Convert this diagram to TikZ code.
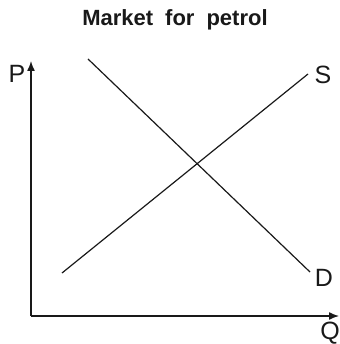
\documentclass[tikz,border=0pt]{standalone}
\usepackage{fontspec}
\setmainfont{Liberation Sans}
\usetikzlibrary{arrows.meta,positioning}

\begin{document}
\begin{tikzpicture}[
  x=1pt, y=-1pt,
  font=\fontsize{25}{25}\selectfont,
  >={Latex[length=10pt, width=8pt]},
  axis/.style={->, line width=1.4pt, draw=black!90},
  curve/.style={line width=1.2pt, draw=black!90},
  lbl/.style={inner sep=0pt, text=black!90}
]
  \useasboundingbox (0,0) rectangle (339,344);

  \node[lbl, anchor=base, font=\fontsize{22}{22}\selectfont\bfseries] (title) at (175,26)
    {Market\hspace{12pt}for\hspace{12pt}petrol};

  \coordinate (origin) at (31,316);
  \coordinate (ptop) at (31,61);
  \coordinate (qend) at (339,316);
  \draw[axis] (origin) -- (ptop);
  \draw[axis] (origin) -- (qend);

  \coordinate (sstart) at (62,273);
  \coordinate (send) at (308,74);
  \coordinate (dstart) at (88,59);
  \coordinate (dend) at (310,272);
  \draw[curve] (sstart) -- (send);
  \draw[curve] (dstart) -- (dend);

  \node[lbl] (plabel) at (17,74) {P};
  \node[lbl] (slabel) at (323,75) {S};
  \node[lbl] (dlabel) at (324,278) {D};
  \node[lbl] (qlabel) at (330,333) {Q};
\end{tikzpicture}
\end{document}
